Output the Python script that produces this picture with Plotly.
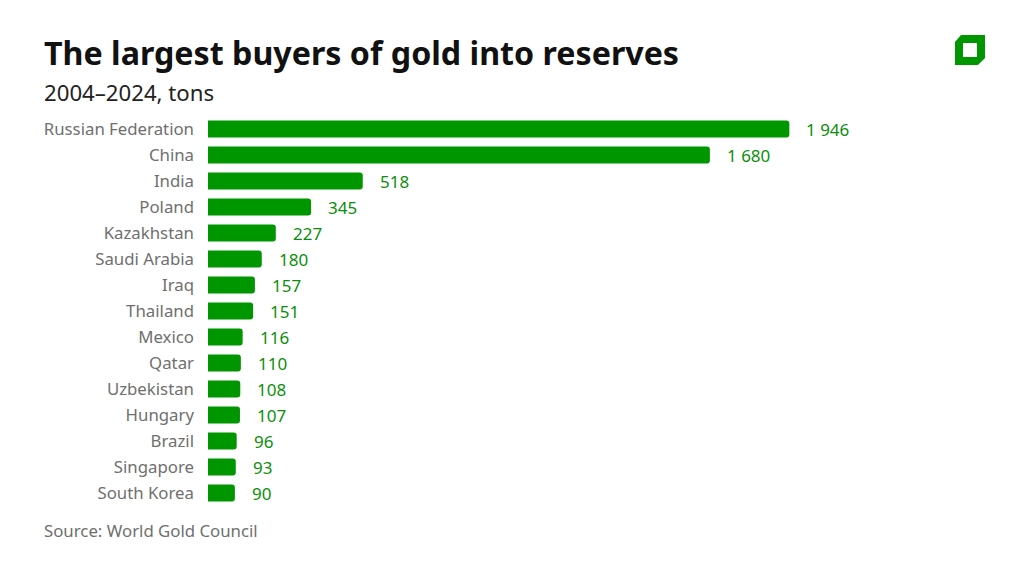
import plotly.graph_objects as go

countries = ['Russian Federation', 'China', 'India', 'Poland', 'Kazakhstan', 'Saudi Arabia', 'Iraq',
             'Thailand', 'Mexico', 'Qatar', 'Uzbekistan', 'Hungary', 'Brazil', 'Singapore', 'South Korea']
tons = [1946, 1680, 518, 345, 227, 180, 157, 151, 116, 110, 108, 107, 96, 93, 90]
value_labels = ['1 946', '1 680', '518', '345', '227', '180', '157', '151',
                '116', '110', '108', '107', '96', '93', '90']

GREEN = '#009600'
FONT = 'Noto Sans'
W, H = 1024, 576
L, R, T, B = 208, 99, 116, 70


def paper_x(px):
    return (px - L) / (W - L - R)


def paper_y(py):
    return (H - py - B) / (H - T - B)


def poly(points):
    return 'M ' + ' L '.join(f'{paper_x(x):.4f} {paper_y(y):.4f}' for x, y in points) + ' Z'


def page_text(text, x, y, size, color, weight=400):
    return dict(text=text, x=paper_x(x), y=paper_y(y), xref='paper', yref='paper',
                xanchor='left', yanchor='middle', showarrow=False,
                font=dict(family=FONT, size=size, color=color, weight=weight))


fig = go.Figure(go.Bar(
    x=tons,
    y=countries,
    orientation='h',
    width=0.66,
    marker=dict(color=GREEN, cornerradius=3, line_width=0),
    hoverinfo='skip',
))

annotations = [
    page_text('The largest buyers of gold into reserves', 42, 53, 32.2, '#111111', 700),
    page_text('2004–2024, tons', 42, 92, 22.2, '#222222'),
    page_text('Source: World Gold Council', 42, 530, 16.8, '#6f6f6f'),
]

for name, val, label in zip(countries, tons, value_labels):
    annotations.append(dict(
        x=val, y=name, text=label, xanchor='left', yanchor='middle', xshift=15, showarrow=False,
        font=dict(family=FONT, size=17, color='#0b8f0b'),
    ))

logo_outer = [(955, 42), (961, 35), (985, 35), (985, 58), (978, 65), (955, 65)]
logo_inner = [(963, 43), (963, 57), (977, 57), (977, 43)]

fig.update_layout(
    width=W,
    height=H,
    margin=dict(l=L, r=R, t=T, b=B, autoexpand=False),
    paper_bgcolor='white',
    plot_bgcolor='white',
    showlegend=False,
    annotations=annotations,
    shapes=[dict(type='path', xref='paper', yref='paper', path=poly(logo_outer) + ' ' + poly(logo_inner),
                 fillcolor=GREEN, line_width=0)],
    xaxis=dict(range=[0, 2400], visible=False),
    yaxis=dict(
        autorange=False,
        range=[14.5, -0.5],
        showgrid=False,
        showline=False,
        ticks='',
        ticklabelstandoff=13,
        tickfont=dict(family=FONT, size=16.8, color='#6f6f6f'),
    ),
)

# the page's default body margin would push the figure off by 8px
fig.write_html('out.html', config=dict(displayModeBar=False),
               post_script="document.body.style.margin = '0';")
